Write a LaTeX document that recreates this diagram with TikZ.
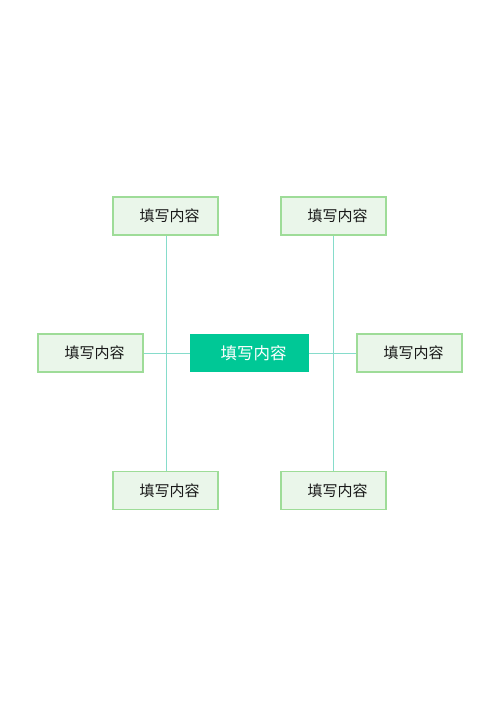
\documentclass[tikz,border=0pt]{standalone}
\usepackage{fontspec}
\newfontfamily\cjk{Noto Sans CJK SC}
\definecolor{boxfill}{HTML}{EAF6EA}
\definecolor{boxline}{HTML}{9EDC98}
\definecolor{mainfill}{HTML}{00C896}
\definecolor{linkcol}{HTML}{86DCCB}
\begin{document}
\begin{tikzpicture}[x=1pt,y=1pt,
  leaf/.style={draw=boxline,line width=1.2pt,fill=boxfill,minimum width=105pt,minimum height=38pt,inner sep=0pt,font=\cjk\fontsize{15}{17}\selectfont,text=black!90},
  hub/.style={fill=mainfill,minimum width=119pt,minimum height=38pt,inner sep=0pt,font=\cjk\fontsize{16.5}{19}\selectfont,text=white},
  link/.style={draw=linkcol,line width=0.9pt}]
\useasboundingbox (0,0) rectangle (500,707);
\fill[white] (0,0) rectangle (500,707);
% coordinates: y = 707 - pixel y
\node[leaf] (tl) at (165.5,491) {\hspace*{8pt}填写内容};
\node[leaf] (tr) at (333.5,491) {\hspace*{8pt}填写内容};
\node[leaf] (l) at (90.5,354) {\hspace*{8pt}填写内容};
\node[leaf] (r) at (409.5,354) {\hspace*{8pt}填写内容};
\node[leaf] (bl) at (165.5,216.5) {\hspace*{8pt}填写内容};
\node[leaf] (br) at (333.5,216.5) {\hspace*{8pt}填写内容};
\coordinate (jl) at (166,354);
\coordinate (jr) at (333,354);
\draw[link] (tl.south -| jl) -- (bl.north -| jl);
\draw[link] (tr.south -| jr) -- (br.north -| jr);
\draw[link] (l.east) -- (r.west);
\node[hub] (c) at (249.5,354) {\hspace*{8pt}填写内容};
\end{tikzpicture}
\end{document}
